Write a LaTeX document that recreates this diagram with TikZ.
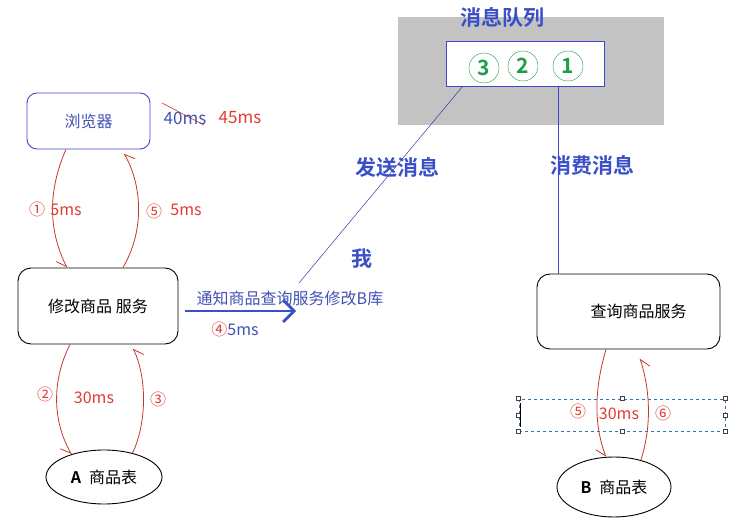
\documentclass[tikz,border=0pt]{standalone}
\usepackage{fontspec}
\setmainfont{Noto Sans CJK SC}[BoldFont={Noto Sans CJK SC Bold}]
\usepackage{xcolor}
\usetikzlibrary{arrows.meta,positioning,shapes.geometric}
\definecolor{boxblue}{HTML}{3F48CC}
\definecolor{txtblue}{HTML}{4152B4}
\definecolor{headblue}{HTML}{3A4FC8}
\definecolor{labred}{HTML}{E03C31}
\definecolor{linered}{HTML}{C0392B}
\definecolor{mqgray}{HTML}{C3C3C3}
\definecolor{qgreen}{HTML}{1E9E4A}
\definecolor{selblue}{HTML}{2E75B6}
\tikzset{
  webbox/.style={draw=boxblue,line width=0.9pt,rounded corners=10pt,minimum width=123pt,
    minimum height=56pt,text=txtblue,font=\fontsize{16pt}{18pt}\selectfont},
  svcbox/.style={draw=black,line width=0.9pt,rounded corners=13pt,minimum width=160pt,
    minimum height=76pt,font=\fontsize{16pt}{18pt}\selectfont},
  tblnode/.style={draw=black,line width=0.9pt,ellipse,minimum width=116pt,minimum height=54pt,
    inner sep=0pt,font=\fontsize{16pt}{18pt}\selectfont},
  qnum/.style={circle,draw=qgreen,minimum size=30pt,inner sep=0pt,text=qgreen,
    font=\fontsize{21pt}{22pt}\selectfont\bfseries},
  headtext/.style={text=headblue,font=\fontsize{21pt}{23pt}\selectfont\bfseries},
  redlabel/.style={text=labred,font=\fontsize{16pt}{18pt}\selectfont},
  bluelabel/.style={text=txtblue,font=\fontsize{16pt}{18pt}\selectfont},
  callarrow/.style={draw=linered,line width=0.8pt,
    -{Straight Barb[right,length=9pt,width=14pt]}},
  notifyarrow/.style={draw=headblue,line width=2.8pt,
    -{Straight Barb[length=11pt,width=22pt,line width=2.8pt]}},
  handle/.style={draw=darkgray,fill=white,minimum size=4pt,inner sep=0pt}
}
\begin{document}
\begin{tikzpicture}[x=1pt,y=-1pt]
\useasboundingbox (0,0) rectangle (753,532);

% left side
\node[webbox] (browser) at (88.5,121) {浏览器};
\node[svcbox] (editsvc) at (98,306) {修改商品 服务};
\node[tblnode] (tabA) at (104,477) {\textbf{A}\hspace{8pt}商品表};

\node[bluelabel,font=\fontsize{17pt}{19pt}\selectfont] (oldtime) at (185,118) {40ms};
\draw[draw=linered,line width=0.6pt] ([shift={(-23pt,15pt)}]oldtime.center) -- ([shift={(19pt,-7pt)}]oldtime.center);
\node[redlabel,font=\fontsize{17pt}{19pt}\selectfont] (newtime) at (240,118) {45ms};

\draw[callarrow] ([xshift=-22.5pt]browser.south) .. controls (48,190) and (48,230) .. ([xshift=-31pt]editsvc.north);
\draw[callarrow] ([xshift=25pt]editsvc.north) .. controls (145,230) and (142,185) .. ([shift={(35.5pt,-4pt)}]browser.south);
\draw[callarrow] ([xshift=-28pt]editsvc.south) .. controls (52,380) and (52,420) .. (tabA.145);
\draw[callarrow] (tabA.40) .. controls (148,420) and (146,375) .. ([shift={(35pt,-4pt)}]editsvc.south);

\node[redlabel] (n1) at (37,209) {①};
\node[redlabel] (t1) at (66,210) {5ms};
\node[redlabel] (n5) at (154,211) {⑤};
\node[redlabel] (t5) at (186,210) {5ms};
\node[redlabel] (n2) at (45,394) {②};
\node[redlabel] (t2) at (94,398) {30ms};
\node[redlabel] (n3) at (158,399) {③};

% notify
\coordinate (notify) at (296,311);
\draw[notifyarrow] ([shift={(7pt,-5pt)}]editsvc.east) -- (notify);
\node[bluelabel] (notifytext) at (290,298) {通知商品查询服务修改B库};
\node[bluelabel] (t4) at (235,329) {\textcolor{labred}{④}5ms};

% message queue
\node[fill=mqgray,minimum width=266pt,minimum height=108pt] (mq) at (531,71) {};
\node[headtext] (mqtitle) at (502,18) {消息队列};
\node[draw=boxblue,fill=white,line width=0.9pt,minimum width=158pt,minimum height=45pt] (msgbox) at (525,63.5) {};
\node[qnum] (m3) at (484,68) {3};
\node[qnum] (m2) at (523,66) {2};
\node[qnum] (m1) at (568,66) {1};

\coordinate (me) at (299,283);
\draw[draw=boxblue!80!black,line width=0.5pt] ([xshift=17pt]msgbox.south west) -- (me);
\node[headtext] (sendtext) at (397,167) {发送消息};
\node[headtext] (metext) at (362,259) {我};
\node[headtext] (consumetext) at (592,165) {消费消息};

% right side
\node[svcbox,minimum width=183pt,minimum height=75pt] (querysvc) at (628.5,311.5) {\hspace*{20pt}查询商品服务};
\node[tblnode,minimum width=114pt,minimum height=60pt] (tabB) at (614,487) {\textbf{B}\hspace{8pt}商品表};
\draw[draw=boxblue,line width=0.8pt] ([xshift=33pt]msgbox.south) -- ([xshift=-70.5pt]querysvc.north);

\node[draw=selblue,dashed,line width=0.7pt,minimum width=206pt,minimum height=32pt] (sel) at (622,415) {};
\foreach \a in {north west,north,north east,east,south east,south,south west,west}
  \node[handle] at (sel.\a) {};
\draw[line width=0.8pt] ([shift={(2pt,-4pt)}]sel.north west) -- ([shift={(2pt,4pt)}]sel.south west);

\draw[callarrow] ([xshift=-22.5pt]querysvc.south) .. controls (594,390) and (594,425) .. (tabB.105);
\draw[callarrow] (tabB.45) .. controls (652,425) and (650,390) .. ([shift={(11.5pt,-9pt)}]querysvc.south);

\node[redlabel] (n5b) at (578,411) {⑤};
\node[redlabel] (t5b) at (619,414) {30ms};
\node[redlabel] (n6b) at (663,413) {⑥};
\end{tikzpicture}
\end{document}
